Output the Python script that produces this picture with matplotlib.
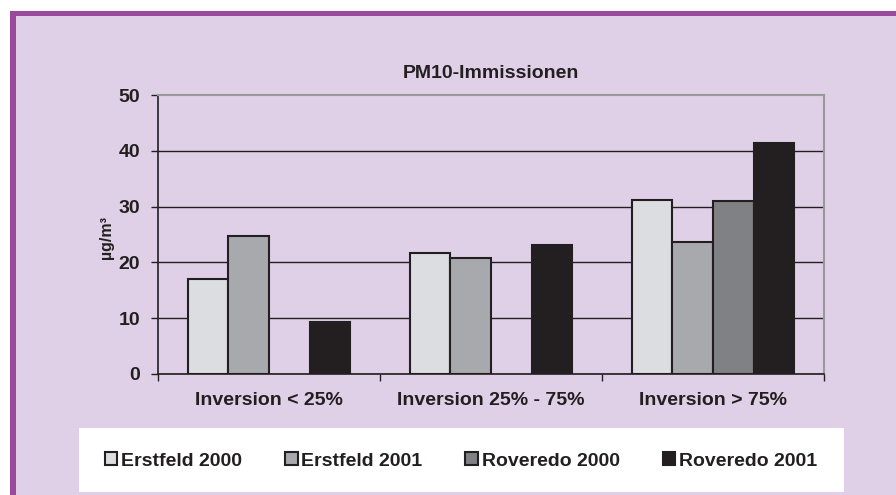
import numpy as np
import matplotlib.pyplot as plt
from matplotlib.patches import Rectangle

plt.rcParams['font.family'] = ['Liberation Sans', 'DejaVu Sans']
plt.rcParams['font.weight'] = 'bold'

categories = ["Inversion < 25%", "Inversion 25% - 75%", "Inversion > 75%"]
series = ["Erstfeld 2000", "Erstfeld 2001", "Roveredo 2000", "Roveredo 2001"]
erstfeld_2000 = [17.0, 21.7, 31.2]
erstfeld_2001 = [24.8, 20.7, 23.7]
roveredo_2000 = [np.nan, np.nan, 31.0]
roveredo_2001 = [9.3, 23.2, 41.4]
values = [erstfeld_2000, erstfeld_2001, roveredo_2000, roveredo_2001]
colors = ["#dcdde0", "#a8a9ad", "#808184", "#231f20"]

panel = "#dfd0e7"
purple = "#9b4a9b"

fig = plt.figure(figsize=(8.96, 4.95), dpi=100)
fig.patch.set_facecolor("white")

# purple framed panel
fig.patches.append(Rectangle((10/896, 0), 1.0, 1 - 11/495, transform=fig.transFigure,
                             facecolor=panel, edgecolor="none", zorder=-3))
fig.patches.append(Rectangle((10/896, 1 - 16/495), 1.0, 5/495, transform=fig.transFigure,
                             facecolor=purple, edgecolor="none", zorder=-2))
fig.patches.append(Rectangle((10/896, 0), 6/896, 1 - 11/495, transform=fig.transFigure,
                             facecolor=purple, edgecolor="none", zorder=-2))
# white legend box
fig.patches.append(Rectangle((79/896, 3/495), (844 - 79)/896, (492 - 428)/495,
                             transform=fig.transFigure, facecolor="white",
                             edgecolor="none", zorder=-2))

ax = fig.add_axes([158/896, 1 - 374/495, (824 - 158)/896, (374 - 95)/495])
ax.set_zorder(2)
ax.set_facecolor(panel)

x = np.arange(len(categories))
w = 0.1833
handles = []
for i, (name, vals, c) in enumerate(zip(series, values, colors)):
    b = ax.bar(x + (i - 1.5) * w, vals, w, color=c, edgecolor="#231f20",
               linewidth=1.5, label=name, zorder=3)
    handles.append(b)

ax.set_xlim(-0.5, 2.5)
ax.set_ylim(0, 50)
ax.set_yticks([0, 10, 20, 30, 40, 50])
ax.set_axisbelow(True)
ax.yaxis.grid(True, color="#231f20", linewidth=1)
ax.get_ygridlines()[-1].set_visible(False)

ax.set_xticks(x)
ax.set_xticklabels(categories, fontsize=14, fontweight="bold", color="#231f20")
ax.set_xticks([-0.5, 0.5, 1.5, 2.5], minor=True)
ax.tick_params(axis="x", which="major", length=0, pad=13)
ax.tick_params(axis="x", which="minor", length=5, width=1, color="#231f20")
ax.tick_params(axis="y", length=5, width=1, color="#231f20", pad=8,
               labelsize=14, labelcolor="#231f20")
for lab in ax.get_yticklabels():
    lab.set_fontweight("bold")

for s in ["left", "bottom"]:
    ax.spines[s].set_color("#231f20")
    ax.spines[s].set_linewidth(1.2)
for s in ["top", "right"]:
    ax.spines[s].set_color("#999999")
    ax.spines[s].set_linewidth(1.5)

ax.set_ylabel("µg/m³", fontsize=11.5, fontweight="bold", color="#231f20")
ax.yaxis.set_label_coords((114 - 158) / 666, 0.49)

fig.text(491/896, 1 - 73/495, "PM10-Immissionen", ha="center", va="center",
         fontsize=14, fontweight="bold", color="#231f20")

fig.legend(handles=handles, labels=series, loc="center", ncol=4,
           bbox_to_anchor=(461/896, 1 - 461/495), frameon=False,
           handlelength=0.65, handleheight=0.65,
           handletextpad=0.2, columnspacing=2.2,
           prop={"weight": "bold", "size": 14}, labelcolor="#231f20")

fig.savefig("out.png", dpi=100)
